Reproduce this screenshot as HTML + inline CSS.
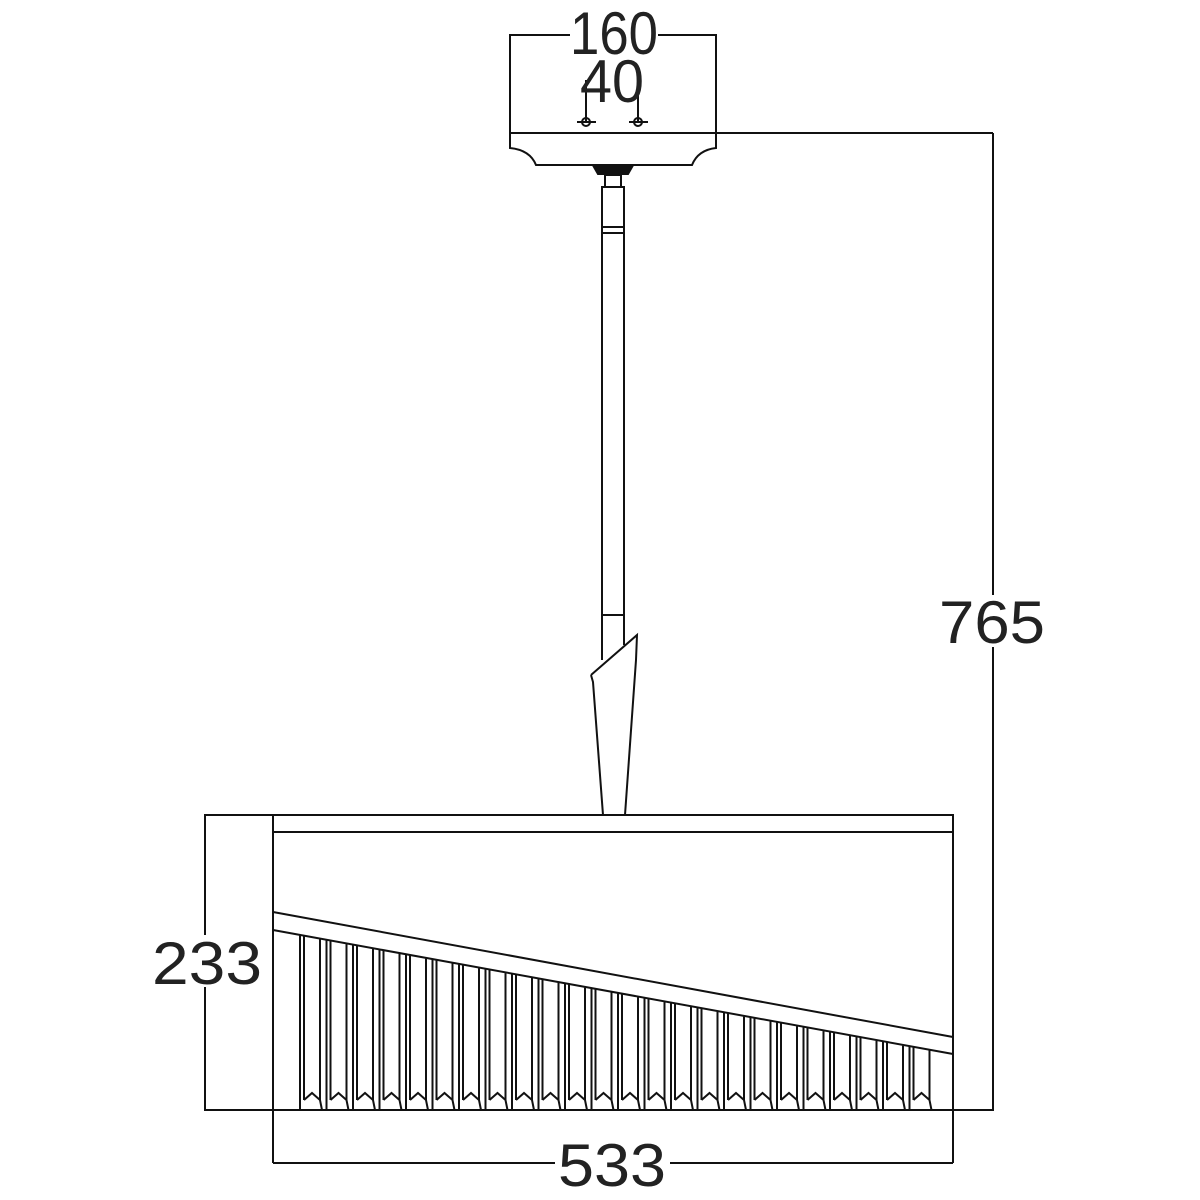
<!DOCTYPE html>
<html><head><meta charset="utf-8"><style>html,body{margin:0;padding:0;background:#fff}svg{display:block}</style></head>
<body>
<svg id="s" width="1200" height="1200" viewBox="0 0 1200 1200" xmlns="http://www.w3.org/2000/svg">
<g fill="none" stroke="#111" stroke-width="2">
<polyline points="510,133 510,35 572,35"/>
<polyline points="656,35 716,35 716,133"/>
<line x1="510" y1="133" x2="993" y2="133"/>
<path d="M510,133 L510,148 Q530,150 536,165 L692,165 Q698,150 716,148 L716,133"/>
<line x1="586" y1="122" x2="586" y2="80"/>
<line x1="638" y1="122" x2="638" y2="80"/>
<circle cx="586" cy="122" r="4"/><circle cx="638" cy="122" r="4"/>
<line x1="577" y1="122" x2="596" y2="122"/><line x1="629" y1="122" x2="648" y2="122"/>
<path d="M594,167 L632,167 L628,174 L598,174 Z" fill="#111"/>
<rect x="605" y="175" width="16" height="12"/>
<rect x="602" y="187" width="22" height="40"/>
<rect x="602" y="227" width="22" height="6"/>
<line x1="602" y1="233" x2="602" y2="660"/>
<line x1="624" y1="233" x2="624" y2="645"/>
<line x1="602" y1="615" x2="624" y2="615"/>
<path d="M591,675 L637,635 L636,660 L625,815 M591,675 L593,682 L603,815"/>
<rect x="273" y="815" width="680" height="17"/>
<line x1="273" y1="832" x2="273" y2="1163"/>
<line x1="953" y1="832" x2="953" y2="1163"/>
<line x1="273" y1="912" x2="953" y2="1037"/>
<line x1="273" y1="930" x2="953" y2="1054"/>
<polyline points="273,815 205,815 205,1110 993,1110 993,133"/>
<line x1="273" y1="1163" x2="953" y2="1163"/>
<g id="cr"></g>
</g>
<g font-family="Liberation Sans, sans-serif" font-size="60" fill="#222">
<rect x="570" y="8" width="88" height="50" fill="#fff"/>
<text x="614" y="54" text-anchor="middle" textLength="88" lengthAdjust="spacingAndGlyphs">160</text>
<text x="612" y="102" text-anchor="middle" textLength="64" lengthAdjust="spacingAndGlyphs">40</text>
<rect x="935" y="595" width="115" height="52" fill="#fff"/>
<text x="992" y="643" text-anchor="middle" textLength="106" lengthAdjust="spacingAndGlyphs">765</text>
<rect x="150" y="935" width="115" height="52" fill="#fff"/>
<text x="207" y="984" text-anchor="middle" textLength="110" lengthAdjust="spacingAndGlyphs">233</text>
<rect x="555" y="1138" width="115" height="52" fill="#fff"/>
<text x="612" y="1186" text-anchor="middle" textLength="108" lengthAdjust="spacingAndGlyphs">533</text>
</g>
</svg>
<script>
var g=document.getElementById('cr'),h='';
for(var x=300;x<925;x+=26.5){
 var w=24,t1=930+(x-273)*124/680,t2=930+(x+w-273)*124/680;
 h+='<line x1="'+x+'" y1="'+t1+'" x2="'+x+'" y2="1110"/>';
 h+='<line x1="'+(x+4)+'" y1="'+(t1+1)+'" x2="'+(x+4)+'" y2="1100"/>';
 h+='<line x1="'+(x+w-4)+'" y1="'+t2+'" x2="'+(x+w-4)+'" y2="1100"/>';
 h+='<polyline points="'+(x+4)+',1100 '+(x+w/2)+',1093 '+(x+w-4)+',1100 '+(x+w-2)+',1110"/>';
}
g.innerHTML=h;
</script>
</body></html>
